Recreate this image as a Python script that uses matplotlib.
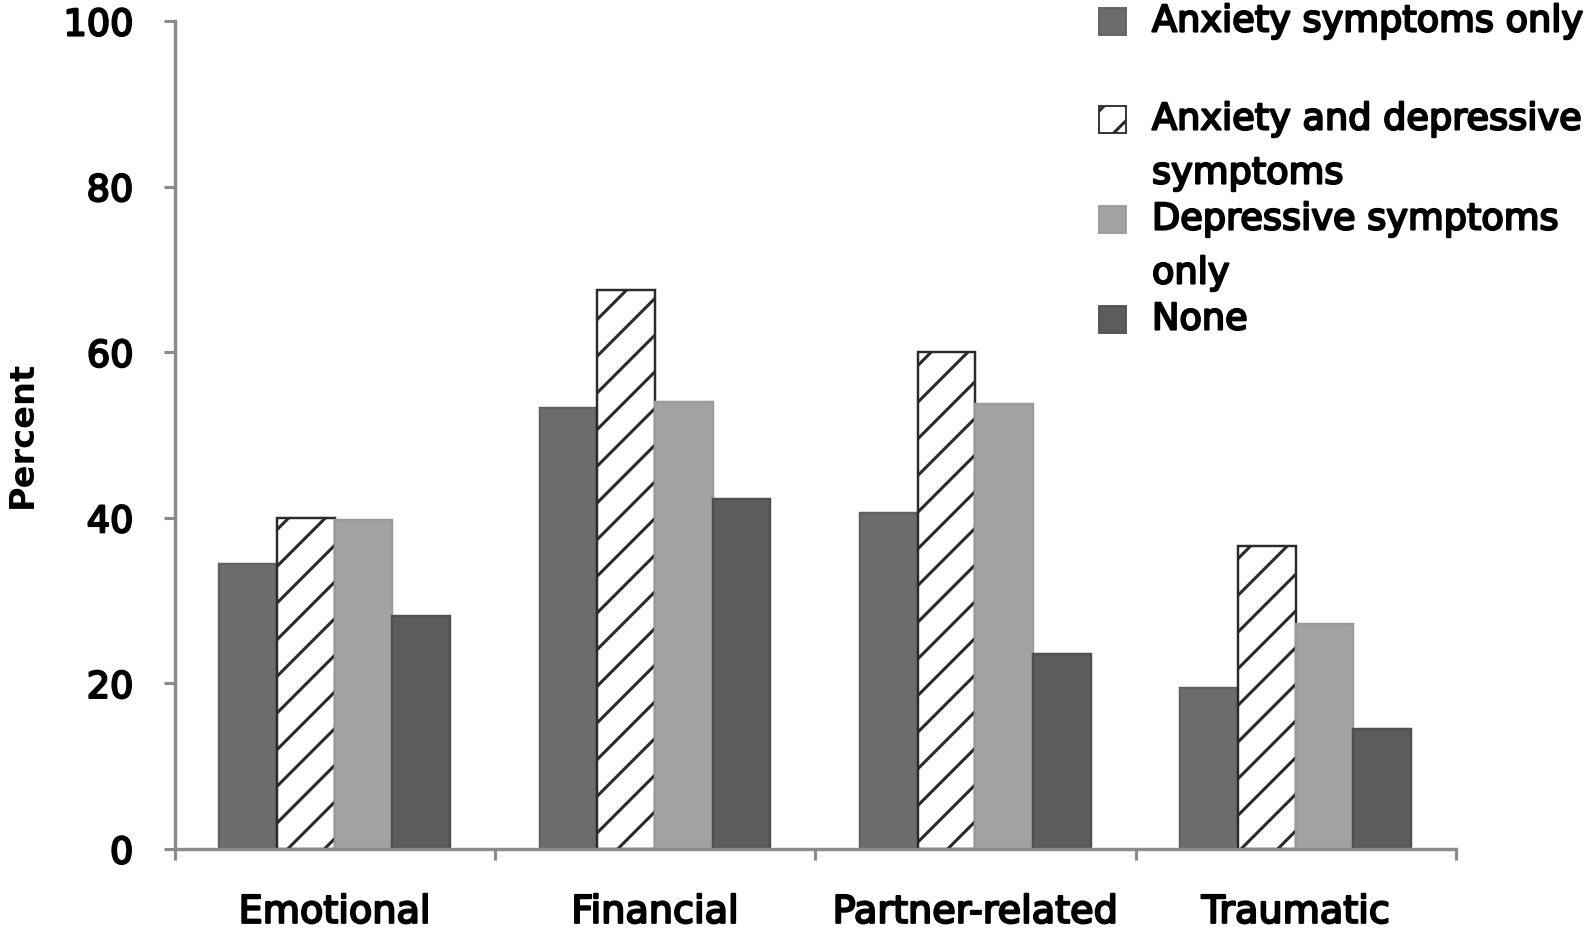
import matplotlib.pyplot as plt
import matplotlib.patheffects as pe
import numpy as np
from matplotlib.patches import Rectangle

categories = ['Emotional', 'Financial', 'Partner-related', 'Traumatic']
series = ['Anxiety symptoms only', 'Anxiety and depressive\nsymptoms',
          'Depressive symptoms\nonly', 'None']
anxiety_only = [34.4, 53.3, 40.6, 19.4]
anx_and_dep = [40.0, 67.5, 60.0, 36.6]
depressive_only = [39.7, 54.0, 53.7, 27.2]
none = [28.2, 42.3, 23.5, 14.5]
yticks = [0, 20, 40, 60, 80, 100]

W, H, DPI = 1591, 931, 220
plt.rcParams['font.family'] = 'DejaVu Sans'
plt.rcParams['hatch.linewidth'] = 1.0
heavy = [pe.withStroke(linewidth=0.7, foreground='black')]

fig = plt.figure(figsize=(W / DPI, H / DPI), dpi=DPI)
ax = fig.add_axes([174.5 / W, 1 - 850 / H, (1456 - 174.5) / W, (850 - 22) / H])

data = [anxiety_only, anx_and_dep, depressive_only, none]
faces = ['#6c6c6c', 'white', '#a2a2a2', '#5c5c5c']
edges = ['#606060', '#2a2a2a', '#9a9a9a', '#505050']
hatches = [None, '//', None, None]
bw = 0.18
x = np.arange(len(categories))
for i, vals in enumerate(data):
    ax.bar(x + (i - 1.5) * bw, vals, bw, color=faces[i], edgecolor=edges[i],
           hatch=hatches[i], linewidth=0.8)

ax.set_xlim(-0.5, len(categories) - 0.5)
ax.set_ylim(0, 100)
ax.set_yticks(yticks)
ax.set_xticks(x)
ax.set_xticklabels(categories, fontsize=12.5)
ax.set_xticks(np.arange(len(categories) + 1) - 0.5, minor=True)
ax.tick_params(axis='x', which='major', length=0, pad=15)
ax.tick_params(axis='x', which='minor', length=3.5, width=1, color='#8a8a8a')
ax.tick_params(axis='y', length=3.5, width=1, color='#8a8a8a', pad=10, labelsize=12)
for lbl in ax.get_xticklabels() + ax.get_yticklabels():
    lbl.set_path_effects(heavy)
for s in ['top', 'right']:
    ax.spines[s].set_visible(False)
for s in ['left', 'bottom']:
    ax.spines[s].set_color('#8a8a8a')
    ax.spines[s].set_linewidth(1.1)

fig.text(22 / W, 1 - 434 / H, 'Percent', rotation=90, ha='center', va='center',
         fontsize=11, fontweight='bold')

# legend drawn by hand to keep the original irregular spacing
handle_y = [22, 120, 220, 320]
pitch = 54
sq = 27
for i, lab in enumerate(series):
    cy = handle_y[i]
    fig.patches.append(Rectangle(((1099) / W, 1 - (cy + sq / 2) / H), sq / W, sq / H,
                                 transform=fig.transFigure, facecolor=faces[i],
                                 edgecolor=edges[i], hatch=hatches[i], linewidth=0.6))
    for j, line in enumerate(lab.split('\n')):
        fig.text(1152 / W, 1 - (cy + j * pitch) / H, line, ha='left', va='center',
                 fontsize=12, path_effects=heavy)

fig.savefig('out.png', dpi=DPI)
